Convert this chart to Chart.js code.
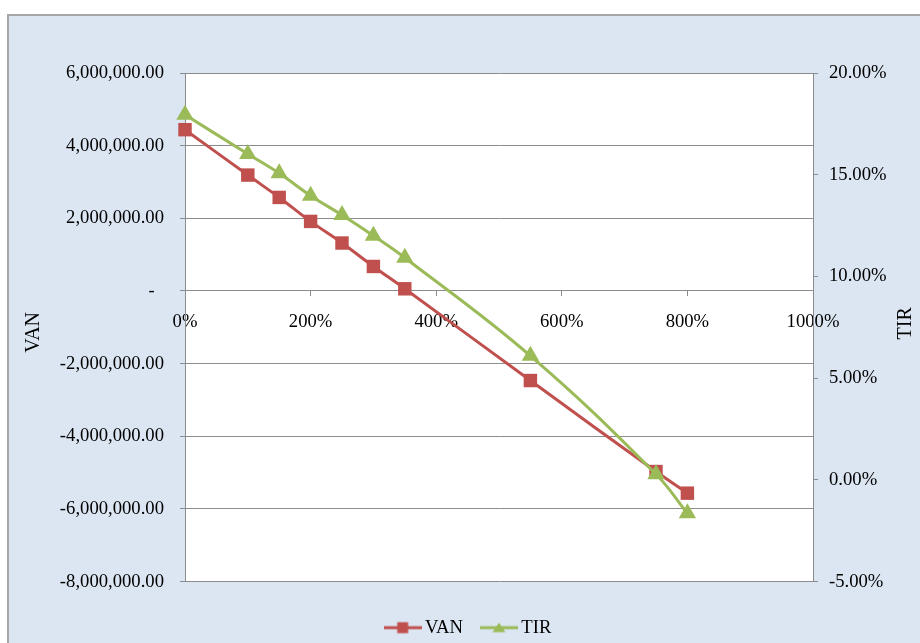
<!doctype html>
<html lang="en">
<head>
<meta charset="utf-8">
<title>VAN / TIR</title>
<style>
  html, body { margin: 0; padding: 0; width: 920px; height: 643px; overflow: hidden; background: #fff; }
  #frame {
    position: absolute; left: 7px; top: 14px; width: 940px; height: 660px;
    background: #dce6f2; border-left: 2px solid #a6a6a6; border-top: 2px solid #a6a6a6;
  }
  #chartContainer { position: absolute; left: 0; top: 0; width: 941px; height: 647px; }
</style>
</head>
<body>
<div id="frame"></div>
<div id="chartContainer">
  <canvas id="myChart"></canvas>
</div>
<script src="https://cdn.jsdelivr.net/npm/chart.js"></script>
<script>
  // values
  var rates = [0, 100, 150, 200, 250, 300, 350, 550, 750, 800];            // x, in %
  var van = [4440000, 3190000, 2575000, 1915000, 1320000, 675000, 60000, -2465000, -4970000, -5565000];
  var tir = [17.95, 16.02, 15.07, 13.97, 13.02, 12.0, 10.92, 6.1, 0.28, -1.64]; // in %

  var vanColor = '#c0504d';
  var tirColor = '#9bbb59';
  var gridColor = '#8c8c8c';
  var serif = '"Liberation Serif", "Times New Roman", serif';

  Chart.defaults.font.family = serif;
  Chart.defaults.color = '#000';

  // legend icon: short line with the marker in the middle
  function legendIcon(color, shape) {
    var c = document.createElement('canvas');
    c.width = 38; c.height = 16;
    var g = c.getContext('2d');
    g.strokeStyle = color; g.lineWidth = 3;
    g.beginPath(); g.moveTo(0, 8); g.lineTo(38, 8); g.stroke();
    g.fillStyle = color;
    if (shape == 'rect') {
      g.fillRect(13.5, 2.5, 11, 11);
    } else {
      g.beginPath(); g.moveTo(19, 3); g.lineTo(25.5, 12.5); g.lineTo(12.5, 12.5); g.closePath(); g.fill();
    }
    return c;
  }
  var icons = [legendIcon(vanColor, 'rect'), legendIcon(tirColor, 'triangle')];

  const plotBackground = {
    id: 'plotBackground',
    beforeDraw(chart) {
      const a = chart.chartArea, ctx = chart.ctx;
      ctx.save();
      ctx.fillStyle = '#fff';
      ctx.fillRect(a.left, a.top, a.width, a.height);
      ctx.restore();
    }
  };

  // both axis titles read bottom to top
  const axisTitles = {
    id: 'axisTitles',
    afterDraw(chart) {
      const a = chart.chartArea, ctx = chart.ctx;
      const mid = (a.top + a.bottom) / 2;
      ctx.save();
      ctx.font = '20px ' + serif;
      ctx.fillStyle = '#000';
      ctx.textAlign = 'center';
      ctx.textBaseline = 'middle';
      [['VAN', a.left - 151, mid + 5], ['TIR', a.right + 93, mid - 4]].forEach(function (t) {
        ctx.save();
        ctx.translate(t[1], t[2]);
        ctx.rotate(-Math.PI / 2);
        ctx.fillText(t[0], 0, 0);
        ctx.restore();
      });
      ctx.restore();
    }
  };

  const data = {
    datasets: [{
      label: 'VAN',
      data: rates.map((r, i) => ({x: r, y: van[i]})),
      borderColor: vanColor,
      backgroundColor: vanColor,
      borderWidth: 3,
      pointStyle: 'rect',
      pointRadius: 9.5,
      pointBorderWidth: 0,
      tension: 0.4,
      clip: false,
      yAxisID: 'y',
      order: 1
    }, {
      label: 'TIR',
      data: rates.map((r, i) => ({x: r, y: tir[i]})),
      borderColor: tirColor,
      backgroundColor: tirColor,
      borderWidth: 3,
      pointStyle: 'triangle',
      pointRadius: 10,
      pointBorderWidth: 0,
      tension: 0.4,
      clip: false,
      yAxisID: 'y2',
      order: 0
    }]
  };

  const config = {
    type: 'line',
    data: data,
    plugins: [plotBackground, axisTitles],
    options: {
      responsive: true,
      maintainAspectRatio: false,
      animation: false,
      layout: {padding: {top: 73, left: 0, right: 0, bottom: 0}},
      plugins: {
        tooltip: {enabled: false},
        legend: {
          position: 'bottom',
          title: {display: true, text: '', font: {size: 1}, padding: {top: 12.5, bottom: 0}},
          labels: {
            usePointStyle: true,
            pointStyleWidth: 26,
            padding: 23,
            font: {size: 18.67},
            sort: (a, b) => a.datasetIndex - b.datasetIndex,
            generateLabels(chart) {
              var items = Chart.defaults.plugins.legend.labels.generateLabels(chart);
              items.forEach(it => { it.pointStyle = icons[it.datasetIndex]; });
              return items;
            }
          }
        }
      },
      scales: {
        x: {
          type: 'linear',
          position: {y: 0},
          min: 0, max: 1000,
          ticks: {stepSize: 200, padding: 15, font: {size: 18.67}, maxRotation: 0, callback: v => v + '%'},
          grid: {drawOnChartArea: false, drawTicks: true, tickLength: 5, color: gridColor},
          border: {display: true, color: gridColor}
        },
        y: {
          position: 'left',
          min: -8000000, max: 6000000,
          ticks: {
            stepSize: 2000000, padding: 16, font: {size: 18.67},
            callback: v => v === 0 ? '-  ' : v.toLocaleString('en-US', {minimumFractionDigits: 2, maximumFractionDigits: 2})
          },
          grid: {color: gridColor, tickLength: 5},
          border: {color: gridColor},
          afterFit(scale) { scale.width = 185; }
        },
        y2: {
          position: 'right',
          min: -5, max: 20,
          ticks: {stepSize: 5, padding: 11, font: {size: 18.67}, callback: v => v.toFixed(2) + '%'},
          grid: {drawOnChartArea: false, tickLength: 5, color: gridColor},
          border: {color: gridColor},
          afterFit(scale) { scale.width = 128; }
        }
      }
    }
  };

  var myChart = new Chart(document.getElementById('myChart'), config);
</script>
</body>
</html>
